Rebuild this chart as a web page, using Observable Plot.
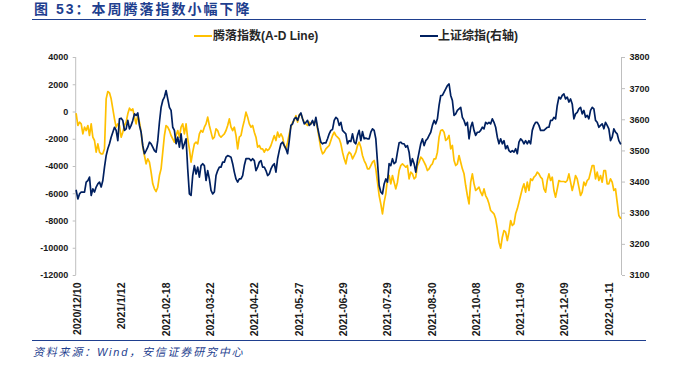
<!DOCTYPE html>
<html><head><meta charset="utf-8">
<script src="https://cdn.jsdelivr.net/npm/d3@7"></script>
<script src="https://cdn.jsdelivr.net/npm/@observablehq/plot@0.6"></script>
<style>
body{margin:0;background:#fff;}
#wrap{position:relative;width:679px;height:365px;overflow:hidden;background:#fff;font-family:"Liberation Sans",Arial,"Noto Sans CJK SC",sans-serif;}
#chart{position:absolute;left:0;top:0;}
#title{position:absolute;left:34px;top:0px;font-weight:bold;font-size:14px;letter-spacing:2px;color:#1f3f8f;line-height:18px;white-space:nowrap;}
.rule{position:absolute;left:32px;width:614px;height:1px;background:#1f3f8f;}
.sw{position:absolute;width:18px;height:2px;}
.lt{position:absolute;top:29px;font-weight:bold;font-size:12px;line-height:14px;color:#262626;white-space:nowrap;}
#src{position:absolute;left:33px;top:345px;font-style:italic;font-size:11px;letter-spacing:1.8px;line-height:14px;color:#1f3f8f;white-space:nowrap;}
</style></head>
<body>
<div id="wrap">
  <div id="chart"></div>
  <div id="title"></div>
  <div class="rule" style="top:19px"></div>
  <div class="sw" style="left:194px;top:35px;background:#FFC000"></div>
  <div class="lt" id="l1" style="left:213px"></div>
  <div class="sw" style="left:420px;top:35px;background:#002060"></div>
  <div class="lt" id="l2" style="left:438px"></div>
  <div class="rule" style="top:340px"></div>
  <div id="src"></div>
</div>
<script>
const titleText = "图 53：本周腾落指数小幅下降";
const seriesNames = ["腾落指数(A-D Line)", "上证综指(右轴)"];
const sourceText = "资料来源：Wind，安信证券研究中心";

// x tick labels (trading-day index, label)
const tickIdx = [0, 22, 44, 66, 88, 110, 132, 154, 176, 198, 220, 242, 264];
const tickLabels = ["2020/12/10","2021/1/12","2021-02-18","2021-03-22","2021-04-22","2021-05-27","2021-06-29","2021-07-29","2021-08-30","2021-10-08","2021-11-09","2021-12-09","2022-01-11"];
const leftTicks = [-12000,-10000,-8000,-6000,-4000,-2000,0,2000,4000];
const rightTicks = [3100,3200,3300,3400,3500,3600,3700,3800];

// A-D line (left axis), sampled evenly across the period
const adLine = [
-135,-991,-746,-869,-1603,-1113,-1358,-991,-1725,-869,
-1847,-2092,-2949,-2337,-2949,-3071,-3071,-2704,967,1505,
1407,967,232,-502,-1113,-869,-991,-1847,-1480,-991,
-746,-135,281,110,232,-379,-869,-257,-746,-1480,
-2582,-3193,-3805,-3438,-3683,-4417,-5273,-5640,-5836,-5518,
-4661,-4172,-2949,-1725,-991,-1113,-1358,-1725,-1970,-2215,
-1725,-1358,-1847,-1113,-869,-1603,-869,-1970,-2704,-3683,
-2949,-2337,-2215,-2337,-1603,-1358,-1480,-1113,-869,-379,
-991,-1480,-1970,-1847,-1236,-1358,-1725,-1847,-1725,-1603,
-1358,-991,-502,-1113,-1358,-1113,-1725,-2704,-1847,-1725,
-1113,-624,-12,-379,-869,-1113,-991,-1480,-1847,-2582,
-2459,-2704,-2704,-2949,-2704,-2826,-2704,-2459,-2092,-1725,
-2092,-1480,-1847,-1603,-1847,-2459,-2704,-2215,-1603,-1113,
-746,-624,-257,-746,-208,-135,-502,-746,-869,-991,
-746,-869,-746,-746,-624,-1236,-1970,-2704,-3071,-2949,
-2704,-2582,-2459,-2092,-1725,-1480,-1725,-1847,-1970,-2337,
-2949,-3438,
-3805,-3193,-2949,-3071,-3438,-3193,-2949,-2459,-2215,-2582,
-3193,-3560,-3805,-4172,-4172,-3927,-3683,-3560,-4172,-5151,
-6129,-6741,-7475,-6619,-6007,-4906,-4661,-5273,-4661,-5151,
-5640,-5151,-4294,-3927,-3805,-3927,-4050,-3927,-4906,-4417,
-4539,-4906,-4784,-3927,-3683,-3316,-3438,-3683,-3927,-4294,
-4172,-3927,-3805,-3438,-3438,-2949,-1847,-1358,-1309,-1480,
-2092,-1970,-1725,-2704,-2459,-3560,-3927,-3805,-3193,-3683,
-4172,-4539,-5395,-6129,-6741,-5151,-4539,-5273,-5762,-5640,
-5518,-5885,-6129,-5640,-6129,-6374,-6741,-7230,-7353,-7475,
-7842,-8576,-9555,-9996,-9188,-8698,-8821,-9433,-8821,-7964,
-8331,-8209,-7475,-7108,-6619,-6129,-5640,-5273,-5885,-5151,
-5762,-4906,-5028,-4784,-4661,-4417,-4539,-4784,-4906,-5640,
-5885,-5028,-4539,-5028,-4784,-5762,-6252,-5640,-5028,-5102,
-5102,-5102,-5151,-5028,-4539,-5151,-5762,-5273,-4661,-4906,
-5518,-6129,-5885,-5151,-5395,-5028,-4906,-4417,-3927,-3927,
-4906,-4417,-5028,-4661,-5151,-4294,-4294,-5273,-5273,-4906,
-5151,-5762,-5640,-6619,-7597,-7793
];

// Shanghai Composite (right axis)
const shIndex = [
3373,3346,3362,3368,3368,3368,3400,3405,3416,3357,
3378,3368,3384,3394,3400,3384,3405,3448,3485,3507,
3523,3544,3560,3576,3566,3533,3603,3605,3598,3566,
3571,3598,3571,3582,3598,3619,3614,3622,3582,3560,
3517,3491,3501,3512,3528,3523,3512,3501,3496,3533,
3592,3640,3662,3673,3694,3667,3640,3630,3576,3566,
3523,3544,3512,3555,3507,3523,3539,3442,3362,3357,
3421,3453,3426,3448,3416,3453,3459,3453,3405,3437,
3410,3373,3362,3368,3421,3437,3448,3448,3464,3464,
3480,3485,3483,3480,3459,3432,3410,3400,3410,3410,
3421,3453,3475,3475,3475,3469,3475,3469,3437,3448,
3464,3469,3448,3448,3437,3421,3426,3442,3453,3459,
3432,3475,3501,3523,3528,3517,3507,3491,3533,3582,
3587,3603,3608,3598,3614,3622,3603,3587,3592,3598,
3582,3587,3598,3582,3608,3576,3550,3528,3523,3526,
3526,3539,3555,3566,3569,3598,3608,3603,3582,3592,
3566,3560,
3555,3523,3533,3530,3555,3528,3523,3550,3566,3533,
3562,3539,3541,3539,3539,3560,3571,3566,3539,3464,
3389,3368,3362,3394,3410,3400,3459,3453,3475,3459,
3464,3496,3526,3528,3523,3523,3512,3517,3496,3453,
3475,3459,3432,3469,3496,3523,3539,3517,3533,3539,
3550,3560,3582,3598,3587,3603,3646,3678,3678,3689,
3699,3710,3715,3678,3662,3614,3619,3630,3635,3640,
3608,3598,3582,3592,3539,3576,3592,3566,3550,3560,
3560,3566,3576,3571,3592,3587,3592,3587,3603,3592,
3576,3544,3523,3539,3523,3533,3507,3517,3501,3496,
3501,3496,3507,3491,3528,3539,3533,3523,3533,3523,
3533,3523,3566,3582,3592,3592,3582,3566,3566,3566,
3571,3576,3576,3598,3598,3608,3603,3646,3673,3667,
3678,3683,3667,3673,3657,3667,3651,3603,3619,3624,
3635,3640,3619,3630,3608,3614,3603,3630,3640,3635,
3598,3592,3576,3582,3587,3571,3592,3582,3571,3533,
3544,3571,3560,3555,3533,3523
];

document.getElementById("title").textContent = titleText;
document.getElementById("l1").textContent = seriesNames[0];
document.getElementById("l2").textContent = seriesNames[1];
document.getElementById("src").textContent = sourceText;

const tStart = -0.7, tEnd = 269.5;
const n = adLine.length;
const tOf = k => tStart + k * (tEnd - tStart) / (n - 1);
const L0 = -12000, L1 = 4000, R0 = 3100, R1 = 3800;
const toLeft = v => L0 + (v - R0) / (R1 - R0) * (L1 - L0);
const fromLeft = v => R0 + (v - L0) / (L1 - L0) * (R1 - R0);

const adData = adLine.map((v, k) => ({t: tOf(k), v}));
const shData = shIndex.map((v, k) => ({t: tOf(k), v: toLeft(v)}));
const labelMap = new Map(tickIdx.map((t, i) => [t, tickLabels[i]]));

const axisText = {fontSize: 9, fontWeight: "bold", fill: "#1a1a1a"};

const plot = Plot.plot({
  width: 679, height: 365,
  marginTop: 57, marginBottom: 90, marginLeft: 75.7, marginRight: 59,
  style: {background: "transparent", fontFamily: "'Liberation Sans', Arial, sans-serif"},
  x: {domain: [tStart, tEnd]},
  y: {domain: [L0, L1]},
  marks: [
    Plot.ruleX([tStart], {y1: L0, y2: L1, stroke: "#bfbfbf", strokeWidth: 1, dx: -0.5}),
    Plot.ruleX([tEnd], {y1: L0, y2: L1, stroke: "#bfbfbf", strokeWidth: 1, dx: 1}),
    Plot.axisY(leftTicks, {anchor: "left", tickSize: 3, tickPadding: 5, stroke: "#bfbfbf", tickFormat: d => String(d), label: null, ...axisText}),
    Plot.axisY(rightTicks.map(toLeft), {anchor: "right", tickSize: 3, tickPadding: 5, dx: 1, stroke: "#bfbfbf", tickFormat: d => String(Math.round(fromLeft(d))), label: null, ...axisText}),
    Plot.axisX(tickIdx, {anchor: "bottom", tickSize: 0, tickPadding: 7, tickRotate: -90, tickFormat: d => labelMap.get(d), label: null, fontSize: 10.5, fontWeight: "bold", fill: "#1a1a1a"}),
    Plot.line(adData, {x: "t", y: "v", stroke: "#FFC000", strokeWidth: 1.7}),
    Plot.line(shData, {x: "t", y: "v", stroke: "#002060", strokeWidth: 1.7})
  ]
});
document.getElementById("chart").appendChild(plot);
</script>
</body></html>
